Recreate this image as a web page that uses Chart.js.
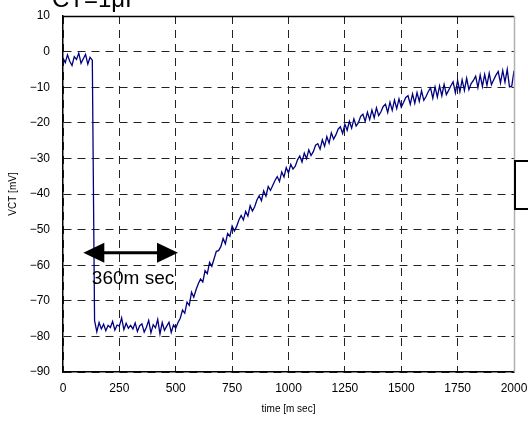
<!DOCTYPE html>
<html>
<head>
<meta charset="utf-8">
<script src="https://cdn.jsdelivr.net/npm/chart.js@4"></script>
<style>
  html, body { margin: 0; padding: 0; background: #fff; }
  #wrap { width: 528px; height: 421px; }
</style>
</head>
<body>
<div id="wrap"><canvas id="vctChart" width="528" height="421"></canvas></div>
<script>
// VCT waveform, one sample every 10 ms (0 .. 2000 m sec)
const sampleStep = 10;
const vct = [
  // 0 - 130 : before the pulse
  -1.8, -3.1, -0.9, -2.7, -3.9, -1.4, -2.2, -0.4, -3.3, -2.0, -0.8, -3.5, -1.6, -2.4,
  // 140 - 500 : held low
  -75.6, -78.7, -76.1, -77.9, -76.6, -78.4, -76.9, -77.5, -75.8, -78.2, -76.8, -77.1, -74.8,
  -78.1, -76.3, -77.7, -76.9, -77.9, -76.2, -78.6, -77.0, -76.5, -78.8, -77.4, -75.5, -79.0,
  -76.7, -77.6, -75.2, -79.3, -76.1, -78.3, -77.1, -76.0, -78.9, -76.8, -77.7,
  // 510 - 2000 : recovery
  -76.1, -74.9, -72.6, -73.5, -70.4, -71.3, -67.6, -69.0, -66.9, -65.2,
  -63.9, -64.7, -61.5, -62.4, -59.2, -60.3, -58.2, -56.1, -55.9, -54.8,
  -52.5, -54.0, -51.1, -51.9, -49.0, -50.4, -49.1, -47.3, -46.0, -47.3,
  -44.9, -46.2, -43.3, -44.8, -43.6, -41.7, -40.5, -41.9, -39.1, -40.6,
  -37.9, -39.0, -37.6, -36.2, -35.1, -36.5, -33.8, -35.2, -32.6, -34.1,
  -31.7, -33.0, -32.2, -30.4, -29.3, -31.0, -28.5, -30.1, -27.6, -29.2,
  -28.1, -26.3, -25.9, -27.4, -24.8, -26.6, -23.9, -25.7, -22.8, -24.6,
  -23.4, -21.8, -21.1, -23.0, -20.4, -22.1, -19.6, -21.5, -18.9, -20.9,
  -20.0, -18.2, -17.6, -19.6, -17.0, -19.1, -16.4, -18.6, -15.8, -18.0,
  -16.9, -15.4, -14.8, -17.1, -14.2, -16.5, -13.6, -16.0, -13.3, -15.6,
  -14.3, -12.9, -12.4, -14.8, -11.9, -14.5, -11.5, -14.0, -11.0, -13.7,
  -12.6, -11.2, -10.2, -13.1, -9.9, -12.8, -9.6, -12.4, -9.2, -12.1,
  -10.9, -9.6, -8.5, -11.6, -8.1, -11.3, -7.9, -10.9, -7.5, -10.7,
  -9.0, -8.1, -6.9, -10.1, -6.6, -9.8, -6.4, -9.5, -6.1, -9.3,
  -7.9, -6.6, -5.6, -8.8, -5.3, -8.6, -5.0, -9.9, -9.7, -5.4
];

const xMin = 0, xMax = 2000, xStep = 250;
const yMin = -90, yMax = 10, yStep = 10;

// annotation: hold time arrow
const holdStart = 90, holdEnd = 510, holdLevel = -56.5;
const holdLabel = '360m sec';
const holdLabelAt = [128, -65.3];
const titleText = 'CT=1\u03bcF';

const points = vct.map((v, i) => ({ x: i * sampleStep, y: v }));

function fmtTick(v) {
  return v < 0 ? '\u2212' + Math.abs(v) : String(v);
}

const decorPlugin = {
  id: 'decor',
  afterDraw(chart) {
    const ctx = chart.ctx;
    const a = chart.chartArea;
    const xs = chart.scales.x, ys = chart.scales.y;
    ctx.save();
    // top + right frame
    ctx.strokeStyle = '#000';
    ctx.lineWidth = 1.5;
    ctx.beginPath();
    ctx.moveTo(a.left, a.top + 0.5);
    ctx.lineTo(a.right, a.top + 0.5);
    ctx.stroke();
    ctx.strokeStyle = '#b0b0b0';
    ctx.lineWidth = 1.5;
    ctx.beginPath();
    ctx.moveTo(a.right + 0.5, a.top);
    ctx.lineTo(a.right + 0.5, a.bottom);
    ctx.stroke();

    // double arrow
    const x1 = xs.getPixelForValue(holdStart);
    const x2 = xs.getPixelForValue(holdEnd);
    const yy = ys.getPixelForValue(holdLevel);
    const head = 21, half = 10;
    ctx.strokeStyle = '#000';
    ctx.fillStyle = '#000';
    ctx.lineWidth = 3;
    ctx.beginPath();
    ctx.moveTo(x1 + head - 2, yy);
    ctx.lineTo(x2 - head + 2, yy);
    ctx.stroke();
    ctx.beginPath();
    ctx.moveTo(x1, yy);
    ctx.lineTo(x1 + head, yy - half);
    ctx.lineTo(x1 + head, yy + half);
    ctx.closePath();
    ctx.fill();
    ctx.beginPath();
    ctx.moveTo(x2, yy);
    ctx.lineTo(x2 - head, yy - half);
    ctx.lineTo(x2 - head, yy + half);
    ctx.closePath();
    ctx.fill();

    // label
    ctx.font = '19px "Liberation Sans", Arial, sans-serif';
    ctx.textAlign = 'left';
    ctx.textBaseline = 'alphabetic';
    ctx.fillText(holdLabel, xs.getPixelForValue(holdLabelAt[0]), ys.getPixelForValue(holdLabelAt[1]));

    // title, cut off at the top like the original
    ctx.font = '24px "Liberation Sans", Arial, sans-serif';
    ctx.fillText(titleText, 52, 7);

    // partly visible box at the right edge
    ctx.lineWidth = 2;
    ctx.strokeRect(a.right + 1, 161, 40, 48);
    ctx.restore();
  }
};

new Chart(document.getElementById('vctChart'), {
  type: 'line',
  data: {
    datasets: [{
      data: points,
      borderColor: '#000080',
      borderWidth: 1.3,
      pointRadius: 0,
      tension: 0,
      fill: false
    }]
  },
  options: {
    responsive: false,
    animation: false,
    layout: { padding: { left: 0, top: 16, right: 14, bottom: 0 } },
    plugins: {
      legend: { display: false },
      tooltip: { enabled: false }
    },
    scales: {
      x: {
        type: 'linear',
        min: xMin,
        max: xMax,
        afterFit(scale) {
          scale.height = 49;
          scale.paddingLeft = 0;
          scale.paddingRight = 0;
        },
        ticks: {
          stepSize: xStep,
          color: '#000',
          padding: 9,
          maxRotation: 0,
          callback: v => String(v),
          font: { family: '"Liberation Sans", Arial, sans-serif', size: 12 }
        },
        grid: {
          color: '#222',
          lineWidth: 1,
          drawTicks: false
        },
        border: { display: true, color: '#000', width: 1.5, dash: [8, 6] },
        title: {
          display: true,
          text: 'time [m sec]',
          color: '#000',
          padding: { top: 0, bottom: 6 },
          font: { family: '"Liberation Sans", Arial, sans-serif', size: 10 }
        }
      },
      y: {
        min: yMin,
        max: yMax,
        afterFit(scale) {
          scale.width = 63;
          scale.paddingTop = 0;
          scale.paddingBottom = 0;
        },
        ticks: {
          stepSize: yStep,
          color: '#000',
          padding: 13,
          callback: fmtTick,
          font: { family: '"Liberation Sans", Arial, sans-serif', size: 12 }
        },
        grid: {
          color: '#222',
          lineWidth: 1,
          drawTicks: false
        },
        border: { display: true, color: '#000', width: 1.5, dash: [8, 6] },
        title: {
          display: true,
          text: 'VCT [mV]',
          color: '#000',
          padding: { top: 7, bottom: 0 },
          font: { family: '"Liberation Sans", Arial, sans-serif', size: 10 }
        }
      }
    }
  },
  plugins: [decorPlugin]
});
</script>
</body>
</html>
